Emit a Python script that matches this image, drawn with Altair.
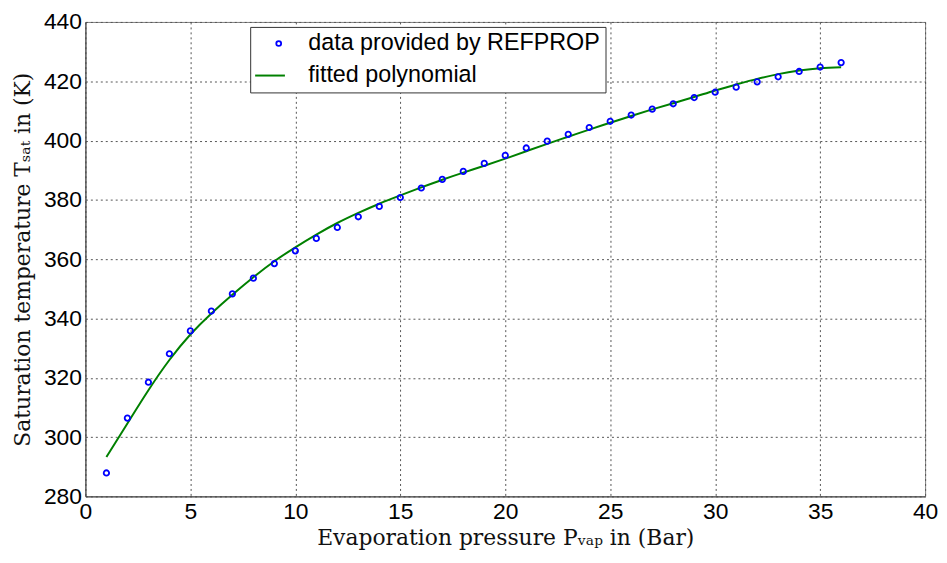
import altair as alt
import pandas as pd

# Evaporation pressure (Bar)
pressure = list(range(1, 37))

# REFPROP saturation temperatures (K)
t_refprop = [287.9, 306.4, 318.5, 328.1, 335.8, 342.5, 348.3, 353.6, 358.5, 362.8,
             367.0, 370.7, 374.3, 377.8, 380.8, 384.0, 386.9, 389.6, 392.3, 395.0,
             397.5, 399.8, 402.1, 404.4, 406.5, 408.6, 410.6, 412.4, 414.5, 416.3,
             418.0, 419.8, 421.5, 423.3, 424.8, 426.3]

# fitted polynomial (K)
t_fit = [293.3, 304.6, 315.8, 326.0, 334.6, 341.7, 348.0, 353.9, 359.3, 364.0,
         368.3, 372.2, 375.6, 378.7, 381.5, 384.2, 386.8, 389.2, 391.5, 393.9,
         396.4, 398.9, 401.3, 403.7, 406.0, 408.3, 410.5, 412.6, 414.7, 416.9,
         418.9, 420.8, 422.4, 423.6, 424.4, 424.7]

series_names = ["data provided by REFPROP", "fitted polynomial"]
x_ticks = [0, 5, 10, 15, 20, 25, 30, 35, 40]
y_ticks = [280, 300, 320, 340, 360, 380, 400, 420, 440]

df_pts = pd.DataFrame({"P": pressure, "T": t_refprop, "series": series_names[0]})
df_fit = pd.DataFrame({"P": pressure, "T": t_fit, "series": series_names[1]})

x_enc = alt.X("P:Q", scale=alt.Scale(domain=[0, 40], nice=False),
              axis=alt.Axis(values=x_ticks, title="Evaporation pressure Pᵥₐₚ in (Bar)"))
y_enc = alt.Y("T:Q", scale=alt.Scale(domain=[280, 440], nice=False, zero=False),
              axis=alt.Axis(values=y_ticks, title="Saturation temperature Tₛₐₜ in (K)"))

# boxed legend holding both labels (second symbol left transparent)
legend_a = alt.Legend(
    title=None, orient="none", legendX=166, legendY=5, zindex=1,
    strokeColor="#333333", fillColor="white", padding=5,
    labelFont="Liberation Sans", labelFontSize=23.5, labelColor="black",
    labelLimit=500,
    symbolType="circle", symbolSize=24, symbolStrokeWidth=1.8,
    symbolOffset=12, labelOffset=18, rowPadding=7,
)
# line symbol of the fitted polynomial, sitting in the second row
legend_b = alt.Legend(
    title=None, orient="none", legendX=170, legendY=38, zindex=2,
    padding=0, labelExpr="''", labelFontSize=23.5,
    symbolType="stroke", symbolSize=900, symbolStrokeWidth=2,
)

color = alt.Color("series:N",
                  scale=alt.Scale(domain=series_names, range=["#0000FF", "transparent"]),
                  legend=legend_a)
stroke = alt.Stroke("series:N",
                    scale=alt.Scale(domain=[series_names[1]], range=["#008000"]),
                    legend=legend_b)

points = alt.Chart(df_pts).mark_point(filled=False, size=30, strokeWidth=1.8, opacity=1).encode(
    x=x_enc, y=y_enc, color=color)
line = alt.Chart(df_fit).mark_line(strokeWidth=2, interpolate="natural").encode(
    x=x_enc, y=y_enc, stroke=stroke)

chart = alt.layer(line, points).properties(
    width=846, height=478,
    autosize=alt.AutoSizeParams(type="none"),
    padding={"left": 78, "top": 12, "right": 14, "bottom": 57},
    background="white",
).configure_view(
    stroke="#808080", strokeWidth=1
).configure_axis(
    labelFont="Liberation Sans", labelFontSize=23, labelColor="black",
    labelFlush=False,
    titleFont="DejaVu Serif", titleFontSize=22, titleFontWeight="normal",
    titleColor="#111111",
    ticks=False, labelPadding=4,
    domainColor="#404040", domainWidth=1,
    grid=True, gridColor="#555555", gridDash=[2, 3], gridWidth=1, gridOpacity=1,
).configure_axisX(
    titlePadding=4
).configure_axisY(
    titlePadding=9
)

chart.save("out.html", embed_options={"renderer": "svg", "actions": False})
